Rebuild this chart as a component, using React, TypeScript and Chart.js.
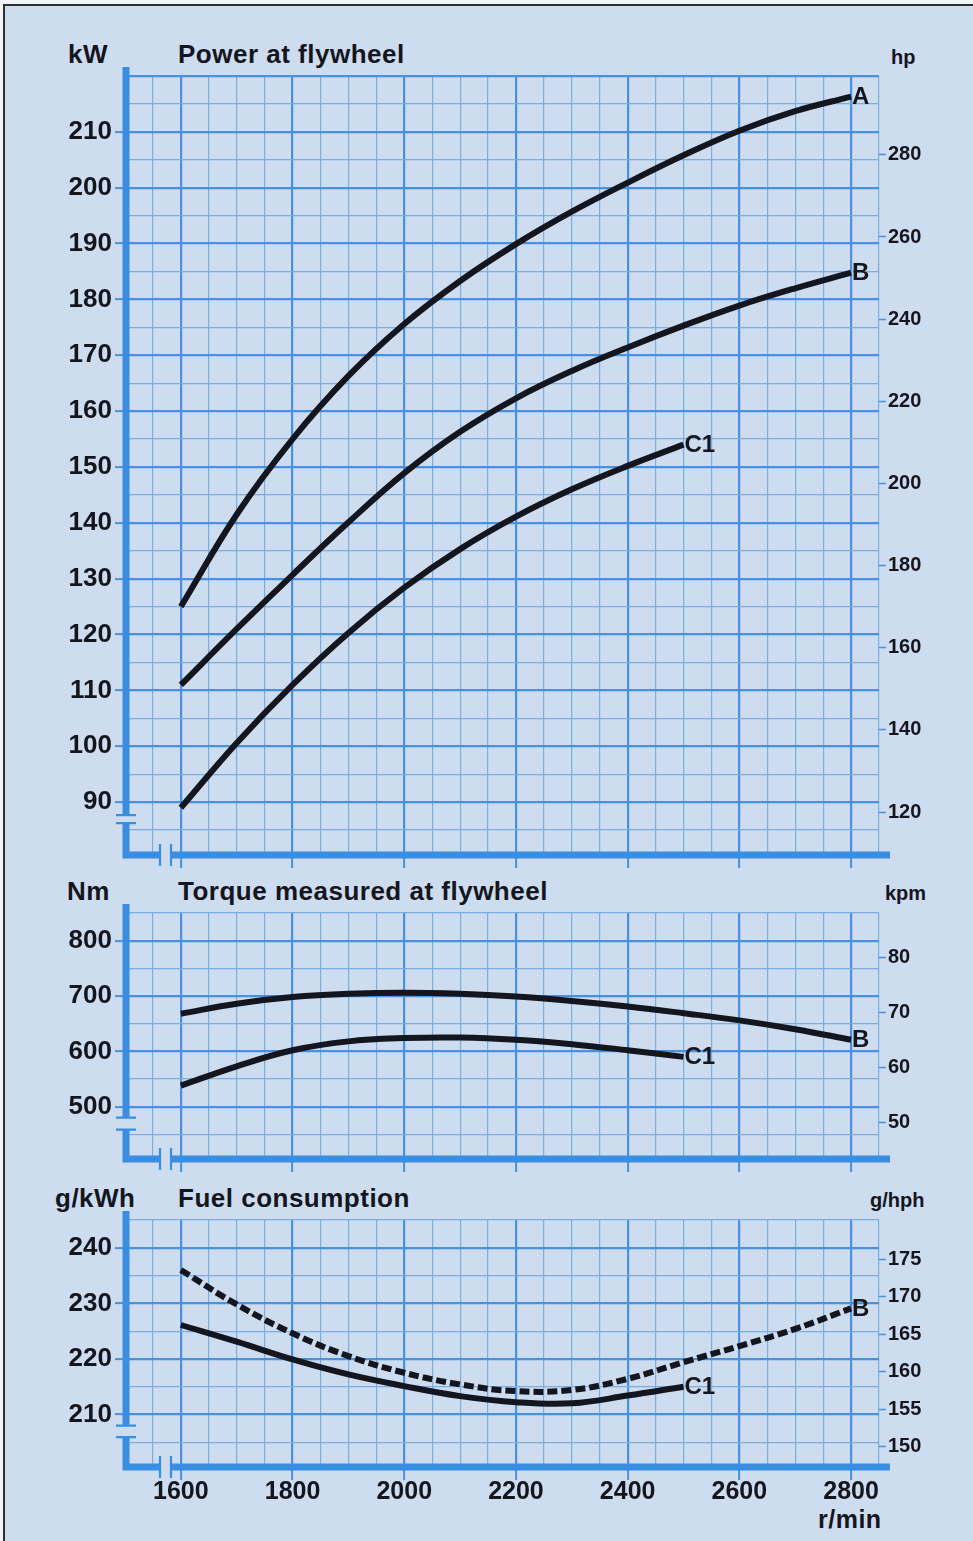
import React, { useEffect, useRef } from "react";
import { Chart, registerables } from "chart.js";

Chart.register(...registerables);

// ---------------- data ----------------
const rpm = [1600, 1700, 1800, 1900, 2000, 2100, 2200, 2300, 2400, 2500, 2600, 2700, 2800];
const rpmC1 = [1600, 1700, 1800, 1900, 2000, 2100, 2200, 2300, 2400, 2500];
const rpmTickLabels = [1600, 1800, 2000, 2200, 2400, 2600, 2800];

const powerA = [125, 141.5, 155.0, 166.3, 175.6, 183.3, 189.9, 195.7, 200.9, 205.8, 210.2, 213.7, 216.3];
const powerB = [111, 121.0, 130.7, 140.1, 148.9, 156.3, 162.3, 167.2, 171.4, 175.3, 178.9, 182.0, 184.8];
const powerC1 = [89, 100.6, 111.0, 120.3, 128.4, 135.3, 141.1, 146.0, 150.2, 154.0];
const kwTicks = [90, 100, 110, 120, 130, 140, 150, 160, 170, 180, 190, 200, 210];
const hpTicks = [120, 140, 160, 180, 200, 220, 240, 260, 280];

const torqueB = [668, 686, 698, 704, 706, 704, 699, 691, 681, 669, 656, 640, 621];
const torqueC1 = [538, 573, 602, 618, 624, 625, 621, 613, 602, 590];
const nmTicks = [500, 600, 700, 800];
const kpmTicks = [50, 60, 70, 80];

const fuelB = [236, 229.8, 224.6, 220.5, 217.5, 215.4, 214.2, 214.4, 216.4, 219.4, 222.3, 225.4, 229.1];
const fuelC1 = [226.1, 223.1, 219.9, 217.2, 215.1, 213.3, 212.2, 212.0, 213.4, 215.0];
const gkwhTicks = [210, 220, 230, 240];
const ghphTicks = [150, 155, 160, 165, 170, 175];

// ---------------- style ----------------
const FONT = "'Liberation Sans', Arial, Helvetica, sans-serif";
const BG = "#cddcee";
const GRID_MAJOR = "#4791df";
const GRID_MINOR = "#7aade3";
const AXIS = "#3a8ee2";
const INK = "#14161f";

type Series = { label: string; x: number[]; y: number[]; dashed?: boolean };
type PanelProps = {
  top: number;
  height: number;
  padTop: number;
  xAxisH: number;
  yMin: number;
  yMax: number;
  yStep: number;
  yMajor: number;
  leftTicks: number[];
  rMin: number;
  rMax: number;
  rTicks: number[];
  series: Series[];
  showX: boolean;
  breakHi: number;
  breakLo: number;
};

function Panel(p: PanelProps) {
  const ref = useRef<HTMLCanvasElement | null>(null);
  useEffect(() => {
    if (!ref.current) return;
    const decor = {
      id: "decor",
      afterDatasetsDraw(chart: any) {
        const { ctx, chartArea: a, scales } = chart;
        const y = scales.y;
        ctx.save();
        // end labels
        ctx.fillStyle = INK;
        ctx.font = `bold 24px ${FONT}`;
        ctx.textBaseline = "middle";
        ctx.textAlign = "left";
        chart.data.datasets.forEach((ds: any, i: number) => {
          const meta = chart.getDatasetMeta(i);
          const pt = meta.data[meta.data.length - 1];
          if (pt) ctx.fillText(ds.label, pt.x + 1, pt.y + 1);
        });
        // thick axes with breaks
        const ax = a.left + 1;
        const by = a.bottom - 3;
        const yHi = y.getPixelForValue(p.breakHi);
        const yLo = y.getPixelForValue(p.breakLo);
        const xb1 = a.left + 35;
        const xb2 = a.left + 46;
        ctx.strokeStyle = AXIS;
        ctx.lineWidth = 7;
        ctx.lineCap = "butt";
        ctx.lineJoin = "miter";
        ctx.beginPath();
        ctx.moveTo(ax, a.top - 9);
        ctx.lineTo(ax, yHi);
        ctx.stroke();
        ctx.beginPath();
        ctx.moveTo(ax, yLo);
        ctx.lineTo(ax, by);
        ctx.lineTo(xb1, by);
        ctx.stroke();
        ctx.beginPath();
        ctx.moveTo(xb2, by);
        ctx.lineTo(a.right + 11, by);
        ctx.stroke();
        ctx.lineWidth = 2.2;
        ctx.beginPath();
        [yHi, yLo].forEach((yy: number) => {
          ctx.moveTo(ax - 10, yy);
          ctx.lineTo(ax + 10, yy);
        });
        [xb1, xb2].forEach((xx: number) => {
          ctx.moveTo(xx, by - 11);
          ctx.lineTo(xx, by + 11);
        });
        ctx.stroke();
        ctx.restore();
      },
    };

    const chart = new Chart(ref.current, {
      type: "line",
      data: {
        datasets: p.series.map((s) => ({
          label: s.label,
          data: s.x.map((x, i) => ({ x, y: s.y[i] })),
          borderColor: INK,
          borderWidth: 6,
          borderDash: s.dashed ? [10, 4] : [],
          borderCapStyle: "butt",
          pointRadius: 0,
          tension: 0.4,
          fill: false,
          yAxisID: "y",
        })),
      },
      options: {
        responsive: false,
        animation: false,
        layout: { padding: { top: p.padTop, left: 0, right: 0, bottom: 0 } },
        plugins: {
          legend: { display: false },
          tooltip: { enabled: false },
        },
        scales: {
          x: {
            type: "linear",
            position: "bottom",
            min: 1500,
            max: 2850,
            ticks: {
              stepSize: 50,
              autoSkip: false,
              maxRotation: 0,
              display: p.showX,
              color: INK,
              padding: -3,
              font: { family: FONT, size: 25, weight: "bold" },
              callback: (v: any) => (rpmTickLabels.includes(Number(v)) ? String(v) : ""),
            },
            grid: {
              color: (c: any) => {
                const v = c.tick ? c.tick.value : 0;
                if (v === 1500) return "rgba(0,0,0,0)";
                return v % 200 === 0 ? GRID_MAJOR : GRID_MINOR;
              },
              lineWidth: (c: any) => {
                const v = c.tick ? c.tick.value : 0;
                return v % 200 === 0 ? 2.2 : 1.2;
              },
              drawTicks: true,
              tickLength: 10,
              tickWidth: 2,
              tickColor: (c: any) => {
                const v = c.tick ? c.tick.value : 0;
                return rpmTickLabels.includes(v) ? GRID_MAJOR : "rgba(0,0,0,0)";
              },
            },
            border: { display: false },
            afterFit: (s: any) => {
              s.height = p.xAxisH;
            },
          },
          y: {
            type: "linear",
            position: "left",
            min: p.yMin,
            max: p.yMax,
            ticks: {
              stepSize: p.yStep,
              autoSkip: false,
              color: INK,
              padding: 3,
              font: { family: FONT, size: 26, weight: "bold" },
              callback: (v: any) => (p.leftTicks.includes(Number(v)) ? String(v) : ""),
            },
            grid: {
              color: (c: any) => {
                const v = c.tick ? c.tick.value : 0;
                if (v === p.yMin) return "rgba(0,0,0,0)";
                return v % p.yMajor === 0 ? GRID_MAJOR : GRID_MINOR;
              },
              lineWidth: (c: any) => {
                const v = c.tick ? c.tick.value : 0;
                return v % p.yMajor === 0 ? 2.2 : 1.2;
              },
              drawTicks: true,
              tickLength: 10,
              tickWidth: 2,
              tickColor: (c: any) => {
                const v = c.tick ? c.tick.value : 0;
                return p.leftTicks.includes(v) ? GRID_MAJOR : "rgba(0,0,0,0)";
              },
            },
            border: { display: false },
            afterFit: (s: any) => {
              s.width = 125;
            },
          },
          yR: {
            type: "linear",
            position: "right",
            min: p.rMin,
            max: p.rMax,
            afterBuildTicks: (s: any) => {
              s.ticks = p.rTicks.map((v) => ({ value: v }));
            },
            ticks: {
              autoSkip: false,
              color: INK,
              padding: 2,
              font: { family: FONT, size: 20, weight: "bold" },
              callback: (v: any) => String(v),
            },
            grid: {
              drawOnChartArea: false,
              drawTicks: true,
              tickLength: 7,
              tickWidth: 1.5,
              tickColor: GRID_MAJOR,
              color: GRID_MAJOR,
            },
            border: { display: false },
            afterFit: (s: any) => {
              s.width = 94;
            },
          },
        },
      } as any,
      plugins: [decor as any],
    });
    return () => chart.destroy();
  }, []);
  return (
    <canvas
      ref={ref}
      width={973}
      height={p.height}
      style={{ position: "absolute", left: 0, top: p.top, width: 973, height: p.height }}
    />
  );
}

type Txt = { t: string; x: number; y: number; size: number };
const texts: Txt[] = [
  { t: "kW", x: 68, y: 53.5, size: 26 },
  { t: "Power at flywheel", x: 178, y: 54, size: 26 },
  { t: "hp", x: 891, y: 57, size: 20 },
  { t: "Nm", x: 67, y: 891, size: 26 },
  { t: "Torque measured at flywheel", x: 178, y: 891, size: 26 },
  { t: "kpm", x: 885, y: 893, size: 20 },
  { t: "g/kWh", x: 55, y: 1198, size: 26 },
  { t: "Fuel consumption", x: 178, y: 1198, size: 26 },
  { t: "g/hph", x: 870, y: 1200, size: 20 },
  { t: "r/min", x: 818, y: 1519, size: 25 },
];

export default function App() {
  return (
    <div
      style={{
        position: "absolute",
        left: 0,
        top: 0,
        width: 973,
        height: 1541,
        background: "#f2f4f6",
        overflow: "hidden",
      }}
    >
      <div
        style={{
          position: "absolute",
          left: 3,
          top: 4,
          right: 0,
          bottom: 0,
          background: BG,
          borderLeft: "2px solid #2e2e33",
          borderTop: "2px solid #2e2e33",
        }}
      />
      {texts.map((d, i) => (
        <div
          key={i}
          style={{
            position: "absolute",
            left: d.x,
            top: d.y - d.size * 0.49,
            fontFamily: FONT,
            fontWeight: "bold",
            fontSize: d.size,
            lineHeight: 1,
            letterSpacing: d.size >= 25 ? "0.5px" : "0px",
            color: INK,
            whiteSpace: "nowrap",
          }}
        >
          {d.t}
        </div>
      ))}
      <Panel
        top={0}
        height={885}
        padTop={76}
        xAxisH={27}
        yMin={80}
        yMax={220}
        yStep={5}
        yMajor={10}
        leftTicks={kwTicks}
        rMin={108.8}
        rMax={299.2}
        rTicks={hpTicks}
        showX={false}
        breakHi={87.67}
        breakLo={86.24}
        series={[
          { label: "A", x: rpm, y: powerA },
          { label: "B", x: rpm, y: powerB },
          { label: "C1", x: rpmC1, y: powerC1 },
        ]}
      />
      <Panel
        top={880}
        height={310}
        padTop={33}
        xAxisH={28}
        yMin={400}
        yMax={850}
        yStep={50}
        yMajor={100}
        leftTicks={nmTicks}
        rMin={42.7}
        rMax={88.2}
        rTicks={kpmTicks}
        showX={false}
        breakHi={480.1}
        breakLo={458.4}
        series={[
          { label: "B", x: rpm, y: torqueB },
          { label: "C1", x: rpmC1, y: torqueC1 },
        ]}
      />
      <Panel
        top={1180}
        height={361}
        padTop={40}
        xAxisH={71}
        yMin={200}
        yMax={245}
        yStep={5}
        yMajor={10}
        leftTicks={gkwhTicks}
        rMin={146.9}
        rMax={180.2}
        rTicks={ghphTicks}
        showX={true}
        breakHi={208.0}
        breakLo={205.9}
        series={[
          { label: "B", x: rpm, y: fuelB, dashed: true },
          { label: "C1", x: rpmC1, y: fuelC1 },
        ]}
      />
    </div>
  );
}
